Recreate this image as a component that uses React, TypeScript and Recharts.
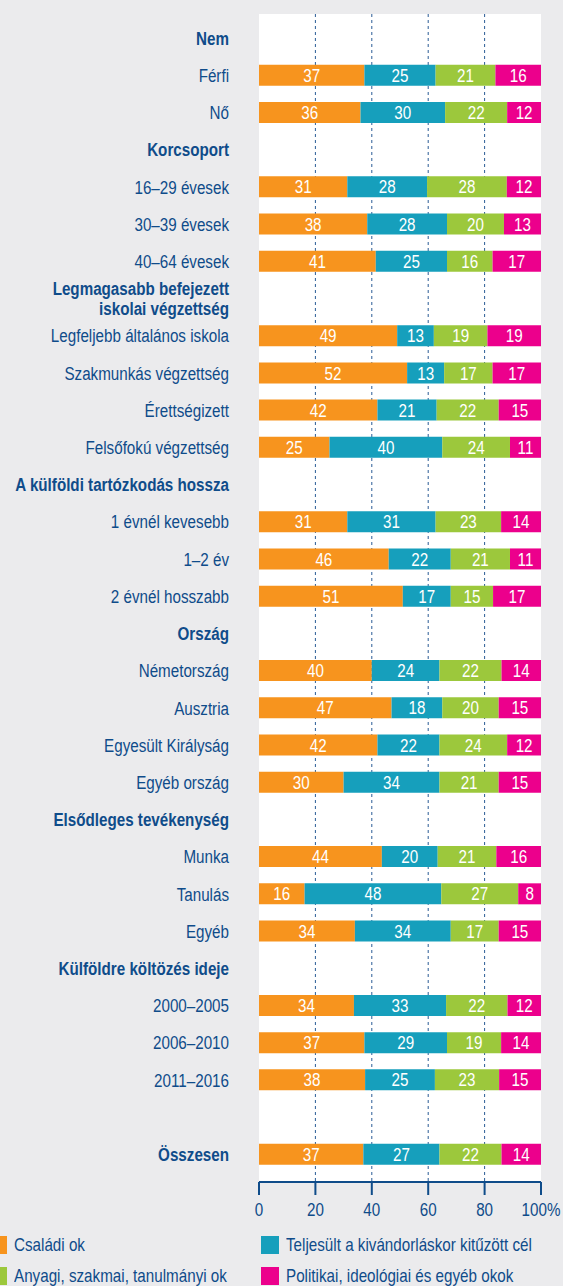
import React from 'react'
import { BarChart, Bar, XAxis, YAxis, CartesianGrid, LabelList, Legend } from 'recharts'

const BLUE = '#0f4c8a'
const GRID = '#2a5c96'
const BG = '#ebebed'
const FONT = '"Liberation Sans", Arial, sans-serif'
const FS = 19
// the original uses a condensed face; squeeze a regular one horizontally
const SQUEEZE = 0.8

const categories = [
  'Nem', 'Férfi', 'Nő',
  'Korcsoport', '16–29 évesek', '30–39 évesek', '40–64 évesek',
  'Legmagasabb befejezett\niskolai végzettség', 'Legfeljebb általános iskola', 'Szakmunkás végzettség', 'Érettségizett', 'Felsőfokú végzettség',
  'A külföldi tartózkodás hossza', '1 évnél kevesebb', '1–2 év', '2 évnél hosszabb',
  'Ország', 'Németország', 'Ausztria', 'Egyesült Királyság', 'Egyéb ország',
  'Elsődleges tevékenység', 'Munka', 'Tanulás', 'Egyéb',
  'Külföldre költözés ideje', '2000–2005', '2006–2010', '2011–2016',
  ' ', 'Összesen',
]

const headers = [
  'Nem', 'Korcsoport', 'Legmagasabb befejezett\niskolai végzettség', 'A külföldi tartózkodás hossza',
  'Ország', 'Elsődleges tevékenység', 'Külföldre költözés ideje', 'Összesen',
]

const family = [null, 37, 36, null, 31, 38, 41, null, 49, 52, 42, 25, null, 31, 46, 51, null, 40, 47, 42, 30, null, 44, 16, 34, null, 34, 37, 38, null, 37]
const goal = [null, 25, 30, null, 28, 28, 25, null, 13, 13, 21, 40, null, 31, 22, 17, null, 24, 18, 22, 34, null, 20, 48, 34, null, 33, 29, 25, null, 27]
const material = [null, 21, 22, null, 28, 20, 16, null, 19, 17, 22, 24, null, 23, 21, 15, null, 22, 20, 24, 21, null, 21, 27, 17, null, 22, 19, 23, null, 22]
const political = [null, 16, 12, null, 12, 13, 17, null, 19, 17, 15, 11, null, 14, 11, 17, null, 14, 15, 12, 15, null, 16, 8, 15, null, 12, 14, 15, null, 14]

const xTicks = [0, 0.2, 0.4, 0.6, 0.8, 1]
const gridValues = [0.2, 0.4, 0.6, 0.8]

const series = [
  { key: 'family', name: 'Családi ok', color: '#f7941e' },
  { key: 'goal', name: 'Teljesült a kivándorláskor kitűzött cél', color: '#169fbc' },
  { key: 'material', name: 'Anyagi, szakmai, tanulmányi ok', color: '#9cc83c' },
  { key: 'political', name: 'Politikai, ideológiai és egyéb okok', color: '#ec008c' },
]

const data = categories.map((name, i) => ({
  name,
  family: family[i],
  goal: goal[i],
  material: material[i],
  political: political[i],
}))

// grid only at the inner ticks, through whatever scale the axis hands over
function gridX({ xAxis, offset }: any) {
  const s = xAxis && xAxis.scale
  return gridValues.map(v => {
    if (typeof s === 'function') return s(v)
    if (s && typeof s.map === 'function') return s.map(v)
    return offset.left + v * offset.width
  })
}

function CategoryTick({ x, y, payload }: any) {
  const label: string = payload.value
  const bold = headers.includes(label)
  const lines = label.split('\n')
  const lh = 20
  const start = -((lines.length - 1) * lh) / 2
  return (
    <g transform={`translate(${x},${y}) scale(${SQUEEZE},1)`}>
      {lines.map((l, i) => (
        <text
          key={i}
          y={start + i * lh}
          textAnchor="end"
          dominantBaseline="central"
          fill={BLUE}
          fontFamily={FONT}
          fontSize={FS}
          fontWeight={bold ? 700 : 400}
        >
          {l}
        </text>
      ))}
    </g>
  )
}

function PercentTick({ x, y, payload }: any) {
  const v: number = payload.value
  return (
    <g transform={`translate(${x},${y}) scale(${SQUEEZE},1)`}>
      <text y={14} textAnchor="middle" fill={BLUE} fontFamily={FONT} fontSize={FS}>
        {v === 1 ? '100%' : String(Math.round(v * 100))}
      </text>
    </g>
  )
}

function BarValue({ x, y, width, height, value }: any) {
  if (value == null) return null
  const cx = Number(x) + Number(width) / 2
  const cy = Number(y) + Number(height) / 2
  return (
    <g transform={`translate(${cx},${cy}) scale(${SQUEEZE},1)`}>
      <text textAnchor="middle" dominantBaseline="central" fill="#ffffff" fontFamily={FONT} fontSize={FS}>
        {value}
      </text>
    </g>
  )
}

function LegendGrid({ payload }: any) {
  const items = series
    .map(s => (payload || []).find((p: any) => p.value === s.name))
    .filter(Boolean)
  return (
    <div
      style={{
        display: 'grid',
        gridTemplateColumns: '272px 300px',
        marginLeft: -11,
        paddingTop: 15.5,
        fontFamily: FONT,
        fontSize: FS,
        color: BLUE,
      }}
    >
      {items.map((p: any) => (
        <div key={p.value} style={{ display: 'flex', alignItems: 'center', height: 31 }}>
          <span style={{ width: 18, height: 18, background: p.color, marginRight: 7, flex: 'none' }} />
          <span
            style={{
              whiteSpace: 'nowrap',
              display: 'inline-block',
              transform: `scaleX(${SQUEEZE})`,
              transformOrigin: 'left center',
            }}
          >
            {p.value}
          </span>
        </div>
      ))}
    </div>
  )
}

export default function App() {
  return (
    <div style={{ width: 563, height: 1286, background: BG, overflow: 'hidden' }}>
      <style>{'body{margin:0}'}</style>
      <BarChart
        width={563}
        height={1286}
        data={data}
        layout="vertical"
        stackOffset="expand"
        margin={{ top: 14, right: 22, bottom: 0, left: 0 }}
      >
        <CartesianGrid
          fill="#ffffff"
          horizontal={false}
          stroke={GRID}
          strokeDasharray="3 3"
          verticalCoordinatesGenerator={gridX}
        />
        <XAxis
          type="number"
          domain={[0, 1]}
          ticks={xTicks}
          height={32}
          axisLine={{ stroke: BLUE, strokeWidth: 2 }}
          tickLine={{ stroke: BLUE, strokeWidth: 2 }}
          tickSize={13}
          tickMargin={7}
          tick={<PercentTick />}
        />
        <YAxis
          type="category"
          dataKey="name"
          width={259}
          interval={0}
          axisLine={false}
          tickLine={false}
          tickSize={0}
          tickMargin={30}
          padding={{ top: 5.5, bottom: 9 }}
          tick={<CategoryTick />}
        />
        {series.map(s => (
          <Bar
            key={s.key}
            dataKey={s.key}
            name={s.name}
            stackId="a"
            fill={s.color}
            barSize={21}
            isAnimationActive={false}
          >
            <LabelList dataKey={s.key} content={<BarValue />} />
          </Bar>
        ))}
        <Legend
          verticalAlign="bottom"
          content={<LegendGrid />}
          wrapperStyle={{ left: 0, width: 563, height: 72 }}
        />
      </BarChart>
    </div>
  )
}
